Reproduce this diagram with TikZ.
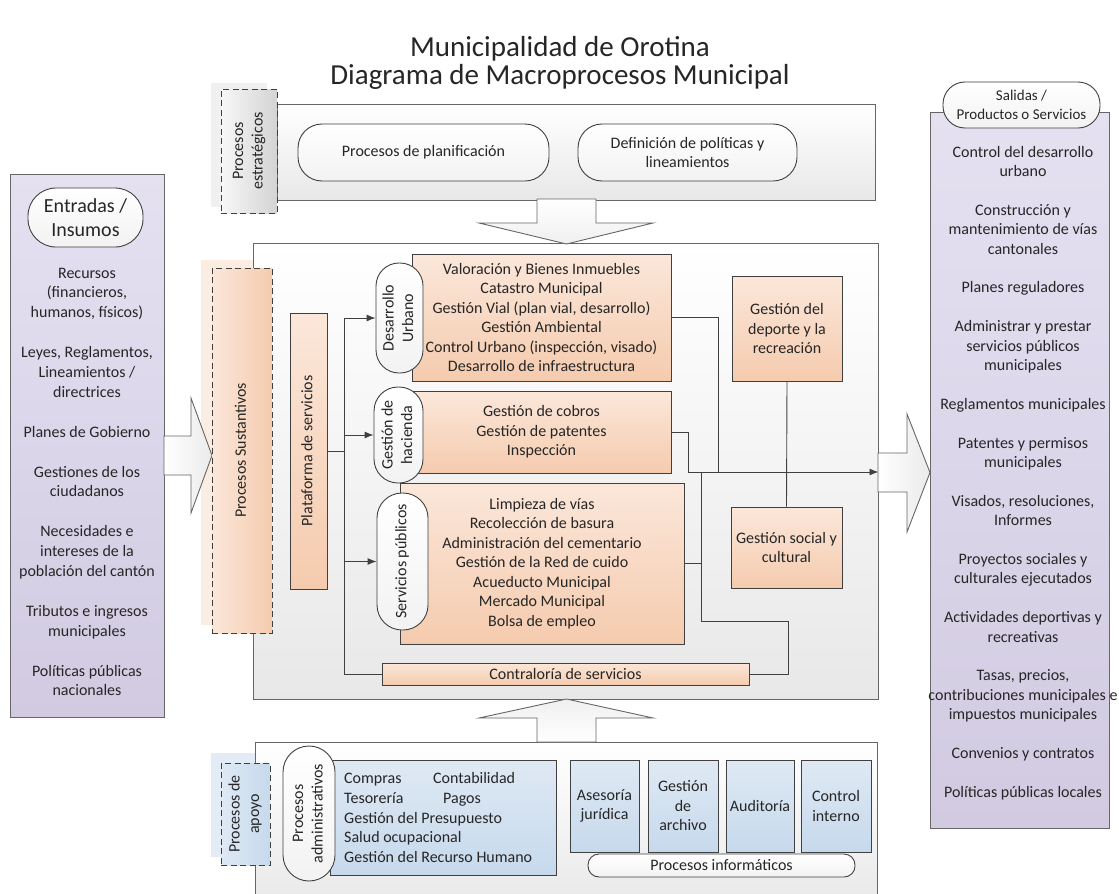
\documentclass[tikz,border=0pt]{standalone}
\usepackage{fontspec}
\usepackage{graphicx}
\setmainfont{Carlito}
\usetikzlibrary{arrows.meta,calc}
\definecolor{ink}{HTML}{262626}
\definecolor{edge}{HTML}{404040}
\definecolor{edgeL}{HTML}{666666}
\definecolor{orT}{HTML}{FBE7DA}
\definecolor{orB}{HTML}{F5CBAE}
\definecolor{orS}{HTML}{FCEDE3}
\definecolor{blT}{HTML}{DFE9F4}
\definecolor{blB}{HTML}{C6D9EC}
\definecolor{blS}{HTML}{E3ECF6}
\definecolor{lvT}{HTML}{E5E1F1}
\definecolor{lvB}{HTML}{D1CAE1}
\definecolor{grB}{HTML}{E8E8E8}
\definecolor{grS}{HTML}{F0F0F0}
\newcommand\bodyfont{\fontsize{16}{19.5}\selectfont}
\newcommand\vtxt[1]{\rotatebox{90}{\begin{tabular}{@{}c@{}}#1\end{tabular}}}
\newcommand\placenode[7]{%
 \pgfmathsetmacro\rkw{#5-#3}\pgfmathsetmacro\rkh{#6-#4}%
 \pgfmathsetmacro\rkx{(#3+#5)/2}\pgfmathsetmacro\rky{(#4+#6)/2}%
 \node[#2, minimum width=\rkw pt, minimum height=\rkh pt] (#1) at (\rkx,\rky) {#7};}
\tikzset{
 box/.style={draw=edge, line width=0.9pt, inner sep=0pt, align=center, text=ink, font=\bodyfont},
 orange/.style={box, top color=orT, bottom color=orB},
 bluebox/.style={box, top color=blT, bottom color=blB},
 frame/.style={draw=edgeL, line width=1pt, top color=white, bottom color=grB, inner sep=0pt},
 column/.style={draw=edgeL, line width=1pt, top color=lvT, bottom color=lvB, inner sep=0pt},
 pill/.style={box, rounded corners=#1, top color=white, bottom color=black!5},
 pill/.default=20pt,
 header/.style={draw=edge, dash pattern=on 6pt off 3.5pt, line width=0.9pt, inner sep=0pt, text=ink, font=\bodyfont, align=center},
 shadowbox/.style={inner sep=0pt, draw=none},
 txt/.style={text=ink, font=\bodyfont, inner sep=0pt, anchor=base},
 conn/.style={draw=edge, line width=0.9pt},
 arr/.style={conn, -{Latex[length=9pt,width=7pt]}},
 blockarrow/.style={draw=edgeL, line width=0.9pt}
}
\begin{document}
\begin{tikzpicture}[x=1pt,y=-1pt]
\useasboundingbox (0,0) rectangle (1119,894);
\fill[white] (0,0) rectangle (1119,894);

% title
\node[font=\fontsize{29}{29}\selectfont, text=ink, anchor=base, inner sep=0pt] (title1) at (560,56) {Municipalidad de Orotina};
\node[font=\fontsize{29}{29}\selectfont, text=ink, anchor=base, inner sep=0pt] (title2) at (560,84) {Diagrama de Macroprocesos Municipal};

% shadows of the headers
\placenode{stratsh}{shadowbox, fill=grS}{211}{83}{267}{207}{}
\placenode{sustsh}{shadowbox, fill=orS}{201}{260}{262}{625}{}
\placenode{apoyosh}{shadowbox, fill=blS}{211}{753}{260}{857}{}

% frames
\placenode{strat}{frame}{277}{104}{875}{200}{}
\placenode{central}{frame}{253}{243}{878}{699}{}
\placenode{support}{frame}{255}{742}{877}{910}{}

% side columns
\placenode{inL}{column}{10}{174}{164}{717}{}
\placenode{outR}{column}{930}{112}{1109}{828}{}

% block arrows
\shadedraw[blockarrow, left color=white, right color=black!8] (164,436) -- (191,436) -- (191,398) -- (212,455.5) -- (191,513) -- (191,475) -- (164,475) -- cycle;
\shadedraw[blockarrow, left color=white, right color=black!8] (878,453) -- (907,453) -- (907,414) -- (930,472.5) -- (907,532) -- (907,492) -- (878,492) -- cycle;
\shadedraw[blockarrow, top color=white, bottom color=black!6] (537,199) -- (537,223) -- (479,223) -- (566.5,244) -- (653,223) -- (596,223) -- (596,199) -- cycle;
\shadedraw[blockarrow, top color=black!6, bottom color=white] (537,742) -- (537,718) -- (479,718) -- (566.5,699) -- (653,718) -- (596,718) -- (596,742) -- cycle;

% headers
\placenode{strathd}{header, left color=black!3, right color=black!17}{221}{89}{277}{213}{\vtxt{Procesos\\estratégicos}}
\placenode{susthd}{header, left color=orT, right color=orB}{212}{268}{272}{633}{\vtxt{Procesos Sustantivos}}
\placenode{apoyohd}{header, left color=blT, right color=blB}{221}{763}{270}{865}{\vtxt{Procesos de\\apoyo}}

% strategic pills
\placenode{plan}{pill=24pt}{298}{124}{549}{181}{Procesos de planificación}
\placenode{polit}{pill=24pt}{578}{124}{797}{181}{Definición de políticas y\\lineamientos}

% input column
\placenode{entr}{pill=28pt, font=\fontsize{20}{24}\selectfont}{28}{188}{143}{247}{Entradas /\\Insumos}
\foreach \t/\k [count=\i] in {Recursos/0,{(financieros,}/1,{humanos, físicos)}/2,{Leyes, Reglamentos,}/4,{Lineamientos /}/5,directrices/6,Planes de Gobierno/8,Gestiones de los/10,ciudadanos/11,Necesidades e/13,intereses de la/14,población del cantón/15,Tributos e ingresos/17,municipales/18,Políticas públicas/20,nacionales/21}
  \node[txt] (in\i) at (87,278+\k*19.9) {\t};

% output column
\placenode{sal}{pill=22pt, font=\fontsize{15}{19}\selectfont}{943}{82}{1100}{128}{Salidas /\\Productos o Servicios}
\foreach \t/\k [count=\i] in {Control del desarrollo/0,urbano/1,Construcción y/3,mantenimiento de vías/4,cantonales/5,Planes reguladores/7,Administrar y prestar/9,servicios públicos/10,municipales/11,Reglamentos municipales/13,Patentes y permisos/15,municipales/16,{Visados, resoluciones,}/18,Informes/19,Proyectos sociales y/21,culturales ejecutados/22,Actividades deportivas y/24,recreativas/25,{Tasas, precios,}/27,contribuciones municipales e/28,impuestos municipales/29,Convenios y contratos/31,Políticas públicas locales/33}
  \node[txt] (out\i) at (1023,157+\k*19.4) {\t};

% substantive processes
\placenode{plat}{orange}{290}{313}{327}{589}{\vtxt{Plataforma de servicios}}
\placenode{bDU}{orange}{412}{254}{671}{381}{Valoración y Bienes Inmuebles\\Catastro Municipal\\Gestión Vial (plan vial, desarrollo)\\Gestión Ambiental\\Control Urbano (inspección, visado)\\Desarrollo de infraestructura}
\placenode{bGH}{orange}{412}{391}{671}{473}{Gestión de cobros\\Gestión de patentes\\Inspección}
\placenode{bSP}{orange}{400}{483}{684}{644}{Limpieza de vías\\Recolección de basura\\Administración del cementario\\Gestión de la Red de cuido\\Acueducto Municipal\\Mercado Municipal\\Bolsa de empleo}
\placenode{pDU}{pill=23pt}{376}{263}{423}{373}{\vtxt{Desarrollo\\Urbano}}
\placenode{pGH}{pill=24pt}{374}{387}{423}{483}{\vtxt{Gestión de\\hacienda}}
\placenode{pSP}{pill=25pt}{377}{493}{428}{630}{\vtxt{Servicios públicos}}
\placenode{dep}{orange}{732}{276}{842}{381}{Gestión del\\deporte y la\\recreación}
\placenode{soc}{orange}{731}{507}{842}{588}{Gestión social y\\cultural}
\placenode{cont}{orange}{382}{663}{749}{685}{Contraloría de servicios}

% connectors
\coordinate (tk) at (344,452);
\coordinate (j1) at (718,472);
\coordinate (j2) at (688,472);
\coordinate (j3) at (701,472);
\coordinate (j4) at (788,621);
\draw[conn] (plat.east) -- (plat.east -| tk);
\draw[conn] (tk |- pDU.west) -- (tk |- cont.west) -- (cont.west);
\draw[arr] (tk |- pDU.west) -- (pDU.west);
\draw[arr] (tk |- pGH.west) -- (pGH.west);
\draw[arr] (tk |- pSP.west) -- (pSP.west);
\draw[conn] (bDU.east) -| (j1);
\draw[conn] (bGH.east) -| (j2);
\draw[arr] (j2) -- (j2 -| central.east);
\draw[conn] (dep.south) -- (soc.north);
\draw[conn] (bSP.east) -- (bSP.east -| j3);
\draw[conn] (j3) |- (j4) |- (cont.east);

% support processes
\placenode{adm}{bluebox}{330}{760}{556}{875}{}
\placenode{pADM}{pill=26pt}{283}{746}{335}{881}{\vtxt{Procesos\\administrativos}}
\node[txt, anchor=base west] (a1) at (344,783) {Compras};
\node[txt, anchor=base west] (a2) at (433,783) {Contabilidad};
\node[txt, anchor=base west] (a3) at (344,803) {Tesorería};
\node[txt, anchor=base west] (a4) at (443,803) {Pagos};
\node[txt, anchor=base west] (a5) at (344,823) {Gestión del Presupuesto};
\node[txt, anchor=base west] (a6) at (344,842) {Salud ocupacional};
\node[txt, anchor=base west] (a7) at (344,862) {Gestión del Recurso Humano};
\placenode{ases}{bluebox}{570}{760}{639}{852}{Asesoría\\jurídica}
\placenode{arch}{bluebox}{648}{760}{718}{852}{Gestión\\de\\archivo}
\placenode{audi}{bluebox}{726}{760}{794}{852}{Auditoría}
\placenode{ctrl}{bluebox}{801}{760}{871}{852}{Control\\interno}
\placenode{info}{pill=11pt}{588}{854}{855}{877}{Procesos informáticos}
\end{tikzpicture}
\end{document}
